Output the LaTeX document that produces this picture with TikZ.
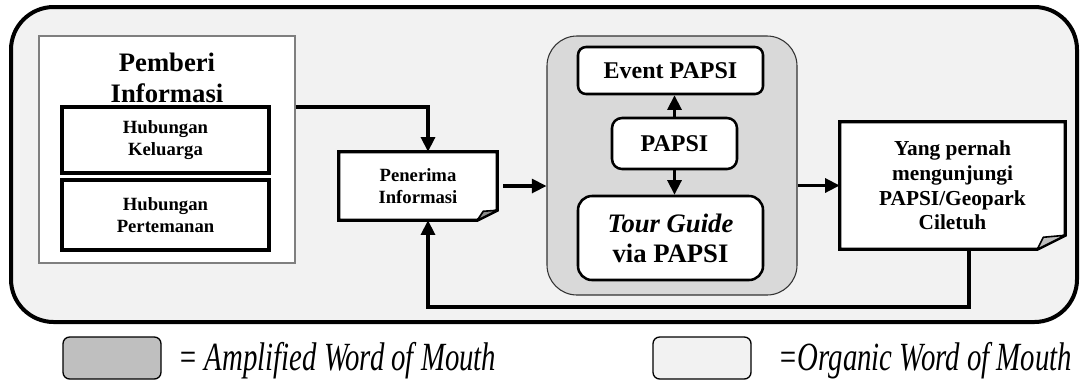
\documentclass[tikz,border=0pt]{standalone}
\usepackage{fontspec}
\setmainfont{Liberation Serif}
\usepackage{graphicx}
\usetikzlibrary{arrows.meta}
\pgfdeclarelayer{background}
\pgfsetlayers{background,main}
\definecolor{outerfill}{HTML}{F2F2F2}
\definecolor{ampfill}{HTML}{D9D9D9}
\definecolor{legendgray}{HTML}{BFBFBF}
\definecolor{framegray}{HTML}{7F7F7F}
\tikzset{
  box/.style={draw, line width=2.4pt, fill=white, inner sep=0pt, align=center, font=\bfseries\fontsize{14}{16.5}\selectfont},
  docbox/.style={inner sep=0pt, align=center},
  roundbox/.style={draw, line width=1.9pt, fill=white, inner sep=0pt, align=center, font=\bfseries\fontsize{18}{22}\selectfont},
  arr/.style={line width=2.4pt, -{Triangle[length=11pt,width=10.5pt]}},
  doc/.style={line width=2.4pt, fill=white},
  fold/.style={line width=1.2pt, fill=black!45, line join=round},
  legendbox/.style={draw, line width=1pt, rounded corners=5pt, minimum width=73.5pt, minimum height=31.5pt},
  legendtext/.style={anchor=base west, inner sep=0pt, font=\itshape\fontsize{30}{30}\selectfont}
}
\begin{document}
\begin{tikzpicture}[x=0.75pt,y=-0.75pt]
  \useasboundingbox (0,0) rectangle (1081,380);
  \begin{pgfonlayer}{background}
    \draw[line width=3pt, fill=outerfill, rounded corners=32pt] (11,7) rectangle (1077,322);
  \end{pgfonlayer}

  \node[draw=framegray, line width=0.8pt, fill=white, minimum width=192pt, minimum height=170.25pt, inner sep=0pt] (pemberi) at (167,149.5) {};
  \node[align=center, font=\bfseries\fontsize{20}{23.5}\selectfont] (judul) at (167,78) {Pemberi\\Informasi};
  \node[box, minimum width=155.25pt, minimum height=49.5pt] (keluarga) at (165.5,140) {Hubungan\\Keluarga};
  \node[box, minimum width=155.25pt, minimum height=52.5pt] (teman) at (165.5,215) {Hubungan\\Pertemanan};

  \node[docbox, minimum width=118.5pt, minimum height=51pt, font=\bfseries\fontsize{14}{16.5}\selectfont] (penerima) at (418,186) {Penerima\\Informasi};
  \begin{pgfonlayer}{background}
    \draw[doc] (penerima.north west) -- (penerima.north east) -- ([yshift=7.5pt]penerima.south east) -- ([xshift=-15pt]penerima.south east) -- (penerima.south west) -- cycle;
  \end{pgfonlayer}
  \draw[fold] ([xshift=-15pt]penerima.south east) -- ([xshift=-10.5pt,yshift=6.75pt]penerima.south east) -- ([yshift=7.5pt]penerima.south east) -- cycle;

  \node[draw=black!80, line width=0.8pt, fill=ampfill, rounded corners=22.5pt, minimum width=187.5pt, minimum height=194.25pt] (papsibox) at (672,165.5) {};
  \node[roundbox, rounded corners=6pt, minimum width=138.75pt, minimum height=35.25pt] (event) at (670.5,70.5) {Event PAPSI};
  \node[roundbox, rounded corners=7.5pt, minimum width=93.75pt, minimum height=38.25pt] (papsi) at (674.5,143.5) {PAPSI};
  \node[roundbox, rounded corners=10.5pt, minimum width=138.75pt, minimum height=63pt, font=\bfseries\fontsize{20}{22.5}\selectfont] (tour) at (670.5,238) {\textit{Tour Guide}\\via PAPSI};

  \node[docbox, minimum width=168.75pt, minimum height=95.25pt, font=\bfseries\fontsize{16}{18.4}\selectfont] (yang) at (952.5,185.5) {Yang pernah\\mengunjungi\\PAPSI/Geopark\\Ciletuh};
  \begin{pgfonlayer}{background}
    \draw[doc] (yang.north west) -- (yang.north east) -- ([yshift=10.5pt]yang.south east) -- ([xshift=-21pt]yang.south east) -- (yang.south west) -- cycle;
  \end{pgfonlayer}
  \draw[fold, fill=black!25] ([xshift=-21pt]yang.south east) -- ([xshift=-16.5pt,yshift=9pt]yang.south east) -- ([yshift=10.5pt]yang.south east) -- cycle;

  \coordinate (belok) at (428,107);
  \draw[arr] (belok -| pemberi.east) -- (belok) -- (belok |- penerima.north);
  \draw[arr, shorten <=4.5pt] (penerima.east) -- (penerima.east -| papsibox.west);
  \draw[arr] (papsibox.east |- yang.west) -- (yang.west);
  \draw[arr] (papsi.north) -- (papsi.north |- event.south);
  \draw[arr] (papsi.south) -- (papsi.south |- tour.north);
  \coordinate (balik1) at (969,307);
  \coordinate (balik2) at (428,307);
  \draw[arr] (balik1 |- yang.south) -- (balik1) -- (balik2) -- (balik2 |- penerima.south);

  \node[legendbox, fill=legendgray] (legamp) at (112,358) {};
  \node[legendtext] (ketamp) at (178,370) {\scalebox{0.72}[1]{= Amplified Word of Mouth}};
  \node[legendbox, fill=outerfill] (legorg) at (702,358) {};
  \node[legendtext] (ketorg) at (778,370) {\scalebox{0.72}[1]{=Organic Word of Mouth}};
\end{tikzpicture}
\end{document}
